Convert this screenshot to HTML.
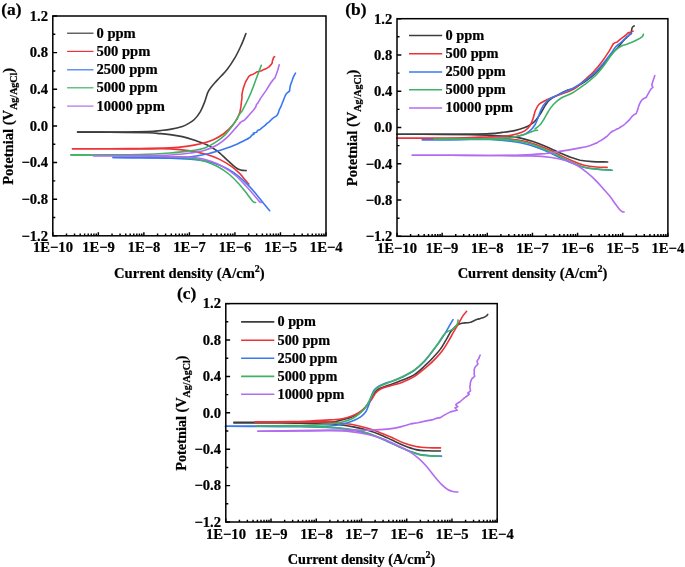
<!DOCTYPE html>
<html><head><meta charset="utf-8"><title>Polarization curves</title>
<style>
html,body{margin:0;padding:0;background:#fff;}
body{width:685px;height:567px;overflow:hidden;font-family:"Liberation Serif",serif;}
svg text{fill:#000;stroke:#000;stroke-width:0.22px;}
</style></head><body>
<svg width="685" height="567" viewBox="0 0 685 567" style="display:block;will-change:transform">
<rect width="685" height="567" fill="#fff"/>
<g id="panel-a">
<path d="M77.6,132.1 C83.0,132.1 98.3,132.2 110.0,132.1 C121.7,132.0 139.7,131.8 148.0,131.6 C156.3,131.3 156.3,131.0 160.0,130.6 C163.7,130.2 166.3,130.1 170.0,129.4 C173.7,128.7 179.3,127.4 182.3,126.4 C185.3,125.4 186.2,124.8 188.2,123.6 C190.2,122.4 192.2,121.5 194.3,119.5 C196.4,117.5 198.8,114.2 200.5,111.3 C202.2,108.4 203.4,105.2 204.6,102.1 C205.8,99.0 206.6,95.3 207.6,92.9 C208.6,90.5 209.2,89.8 210.7,87.8 C212.2,85.8 214.1,83.7 216.8,80.6 C219.5,77.5 224.0,73.3 227.1,69.4 C230.2,65.5 232.9,61.2 235.3,57.1 C237.7,53.0 239.6,48.7 241.4,44.8 C243.2,40.9 245.2,35.4 245.9,33.5" fill="none" stroke="#3d3d3d" stroke-width="1.6" stroke-linejoin="round" stroke-linecap="round"/>
<path d="M77.6,132.1 C83.0,132.1 98.3,132.1 110.0,132.2 C121.7,132.3 139.7,132.6 148.0,132.8 C156.3,133.0 156.3,133.3 160.0,133.6 C163.7,133.9 166.3,134.1 170.0,134.6 C173.7,135.1 178.2,135.6 182.3,136.6 C186.4,137.6 190.5,138.9 194.6,140.3 C198.7,141.7 203.1,143.0 206.8,144.8 C210.6,146.6 213.7,148.4 217.1,150.9 C220.5,153.4 224.2,157.4 227.3,160.1 C230.4,162.8 233.3,165.7 235.5,167.3 C237.7,169.0 238.8,169.4 240.6,170.0 C242.4,170.6 245.2,170.5 246.1,170.6" fill="none" stroke="#3d3d3d" stroke-width="1.6" stroke-linejoin="round" stroke-linecap="round"/>
<path d="M72.5,148.7 C78.8,148.7 98.8,148.7 110.0,148.7 C121.2,148.7 130.0,148.6 140.0,148.5 C150.0,148.4 162.3,148.2 170.0,147.9 C177.7,147.6 181.3,147.1 186.4,146.4 C191.5,145.7 196.2,144.9 200.7,143.8 C205.2,142.7 209.4,141.4 213.3,139.7 C217.2,138.0 220.8,135.9 224.0,133.5 C227.2,131.1 230.3,127.9 232.5,125.4 C234.7,122.9 236.5,119.7 237.3,118.5" fill="none" stroke="#ee3338" stroke-width="1.6" stroke-linejoin="round" stroke-linecap="round"/>
<path d="M237.3,118.5 L239.9,112.3 L241.0,106.2 L241.4,102.0 L242.0,98.0 L241.9,95.0 L242.4,91.9 L243.4,88.0 L244.5,84.7 L245.8,81.5 L247.5,78.6 L248.8,76.4 L250.6,75.1 L252.5,74.6 L254.7,73.4 L256.5,72.1 L258.8,71.4 L261.5,70.7 L263.9,69.4 L266.5,68.4 L269.0,66.9 L270.8,64.9 L272.1,63.2 L272.4,61.0 L273.1,59.1 L273.5,57.6 L274.6,56.7" fill="none" stroke="#ee3338" stroke-width="1.6" stroke-linejoin="round" stroke-linecap="round"/>
<path d="M72.5,148.7 C78.8,148.7 98.8,148.8 110.0,148.8 C121.2,148.8 130.0,148.9 140.0,148.9 C150.0,148.9 161.6,148.6 170.0,148.9 C178.4,149.2 184.4,150.0 190.5,150.9 C196.6,151.8 202.0,153.2 206.8,154.6 C211.6,156.0 215.0,157.1 219.1,159.1 C223.2,161.1 228.0,163.9 231.4,166.3 C234.8,168.7 237.2,171.0 239.6,173.4 C242.0,175.8 244.2,178.8 245.7,180.6 C247.2,182.4 248.3,183.5 248.8,184.1" fill="none" stroke="#ee3338" stroke-width="1.6" stroke-linejoin="round" stroke-linecap="round"/>
<path d="M113.0,157.5 C117.5,157.5 130.5,157.6 140.0,157.6 C149.5,157.6 161.6,157.7 170.0,157.5 C178.4,157.3 184.4,157.3 190.5,156.7 C196.6,156.1 201.7,155.1 206.8,154.0 C211.9,152.9 216.4,151.4 221.2,149.9 C226.0,148.4 231.1,146.7 235.5,144.8 C239.9,142.9 245.8,139.7 247.8,138.7" fill="none" stroke="#3a78f2" stroke-width="1.6" stroke-linejoin="round" stroke-linecap="round"/>
<path d="M247.8,138.7 L250.5,137.0 L252.0,135.0 L253.9,134.2 L253.2,133.2 L256.5,132.3 L257.5,130.6 L260.1,129.4 L262.5,127.4 L265.1,125.4 L267.0,123.4 L269.2,121.9 L271.0,120.0 L272.7,118.4 L274.5,117.2 L276.2,116.1 L277.2,115.0 L278.0,113.7 L278.6,112.0 L279.1,110.2 L280.0,108.4 L280.9,106.7 L282.0,103.8 L283.2,100.9 L284.1,98.5 L285.0,96.2 L285.8,94.6 L286.7,93.3 L288.2,92.1 L289.6,91.0 L289.8,88.6 L290.2,86.3 L291.0,83.6 L292.0,81.0 L292.8,78.6 L293.7,76.4 L294.6,74.6 L295.5,73.1" fill="none" stroke="#3a78f2" stroke-width="1.6" stroke-linejoin="round" stroke-linecap="round"/>
<path d="M113.0,157.5 C117.5,157.6 130.5,157.7 140.0,157.8 C149.5,157.9 161.6,157.9 170.0,158.1 C178.4,158.3 184.4,158.6 190.5,159.1 C196.6,159.6 201.7,160.1 206.8,161.2 C211.9,162.3 216.8,163.8 221.2,165.7 C225.6,167.6 229.3,169.6 233.4,172.4 C237.5,175.2 241.9,179.1 245.7,182.7 C249.5,186.3 252.9,190.3 256.0,193.9 C259.1,197.5 261.8,201.3 264.1,204.1 C266.4,206.9 268.8,209.6 269.7,210.7" fill="none" stroke="#3a78f2" stroke-width="1.6" stroke-linejoin="round" stroke-linecap="round"/>
<path d="M71.0,154.9 C77.5,154.9 98.5,155.0 110.0,154.9 C121.5,154.8 130.0,154.8 140.0,154.5 C150.0,154.2 161.6,153.6 170.0,153.0 C178.4,152.4 184.7,151.8 190.5,150.9 C196.3,150.1 200.7,149.3 204.8,147.9 C208.9,146.5 211.6,144.9 215.0,142.7 C218.4,140.5 222.2,137.7 225.3,134.6 C228.4,131.5 231.0,127.7 233.4,124.3 C235.8,120.9 238.1,116.4 239.6,114.1 C241.1,111.8 240.9,113.0 242.4,110.3 C243.9,107.6 246.7,102.1 248.6,98.0 C250.5,93.9 252.2,89.6 253.7,85.7 C255.2,81.8 256.5,77.9 257.8,74.5 C259.1,71.1 260.7,66.8 261.3,65.3" fill="none" stroke="#3fb266" stroke-width="1.6" stroke-linejoin="round" stroke-linecap="round"/>
<path d="M71.0,154.9 C77.5,154.9 98.5,155.0 110.0,155.1 C121.5,155.2 130.0,155.3 140.0,155.6 C150.0,155.9 161.6,156.3 170.0,156.7 C178.4,157.1 184.7,157.3 190.5,158.1 C196.3,158.8 200.4,159.8 204.8,161.2 C209.2,162.6 213.0,164.1 217.1,166.3 C221.2,168.5 225.7,171.4 229.4,174.5 C233.2,177.6 236.5,181.3 239.6,184.7 C242.7,188.1 245.6,192.1 247.8,194.9 C250.0,197.7 251.6,200.2 252.9,201.5 C254.2,202.8 255.2,202.3 255.6,202.5" fill="none" stroke="#3fb266" stroke-width="1.6" stroke-linejoin="round" stroke-linecap="round"/>
<path d="M93.4,155.7 C97.8,155.7 110.6,155.7 120.0,155.7 C129.4,155.7 141.7,155.6 150.0,155.5 C158.3,155.4 163.2,155.4 170.0,155.0 C176.8,154.6 184.7,153.8 190.5,153.0 C196.3,152.2 200.3,151.7 204.8,150.3 C209.3,148.9 213.7,147.1 217.5,144.8 C221.3,142.5 224.8,139.5 227.9,136.6 C231.0,133.7 234.1,129.7 236.2,127.4 C238.3,125.1 239.6,123.5 240.3,122.7" fill="none" stroke="#b26cf0" stroke-width="1.6" stroke-linejoin="round" stroke-linecap="round"/>
<path d="M240.3,122.7 L241.7,121.5 L244.4,120.3 L246.8,117.6 L249.6,114.5 L253.6,110.0 L255.6,107.3 L256.6,104.2 L257.5,103.6 L260.7,98.1 L265.8,90.9 L270.9,82.8 L273.6,79.2 L274.8,78.2 L276.4,74.0 L277.8,70.0 L279.2,64.8" fill="none" stroke="#b26cf0" stroke-width="1.6" stroke-linejoin="round" stroke-linecap="round"/>
<path d="M93.4,155.7 C97.8,155.7 110.6,155.8 120.0,155.9 C129.4,156.0 141.7,156.1 150.0,156.2 C158.3,156.3 162.6,156.5 170.0,156.7 C177.4,156.9 187.8,156.8 194.6,157.5 C201.4,158.2 206.1,159.6 210.9,161.2 C215.7,162.8 219.1,164.5 223.2,166.9 C227.3,169.3 231.8,172.4 235.5,175.5 C239.2,178.6 242.6,182.5 245.7,185.7 C248.8,188.9 251.7,192.3 253.9,194.9 C256.1,197.5 257.8,199.8 259.0,201.1 C260.2,202.4 260.8,202.3 261.1,202.5" fill="none" stroke="#b26cf0" stroke-width="1.6" stroke-linejoin="round" stroke-linecap="round"/>
<path d="M52.80,16.00h4.3 M52.80,34.32h2.5 M52.80,52.63h4.3 M52.80,70.95h2.5 M52.80,89.27h4.3 M52.80,107.58h2.5 M52.80,125.90h4.3 M52.80,144.22h2.5 M52.80,162.53h4.3 M52.80,180.85h2.5 M52.80,199.17h4.3 M52.80,217.48h2.5 M52.80,235.80h4.3 M52.80,235.80v-3.5 M66.51,235.80v-2.3 M74.52,235.80v-2.3 M80.21,235.80v-2.3 M84.63,235.80v-2.3 M88.23,235.80v-2.3 M91.28,235.80v-2.3 M93.92,235.80v-2.3 M96.25,235.80v-2.3 M98.33,235.80v-3.5 M112.04,235.80v-2.3 M120.06,235.80v-2.3 M125.75,235.80v-2.3 M130.16,235.80v-2.3 M133.77,235.80v-2.3 M136.81,235.80v-2.3 M139.45,235.80v-2.3 M141.78,235.80v-2.3 M143.87,235.80v-3.5 M157.57,235.80v-2.3 M165.59,235.80v-2.3 M171.28,235.80v-2.3 M175.69,235.80v-2.3 M179.30,235.80v-2.3 M182.35,235.80v-2.3 M184.99,235.80v-2.3 M187.32,235.80v-2.3 M189.40,235.80v-3.5 M203.11,235.80v-2.3 M211.12,235.80v-2.3 M216.81,235.80v-2.3 M221.23,235.80v-2.3 M224.83,235.80v-2.3 M227.88,235.80v-2.3 M230.52,235.80v-2.3 M232.85,235.80v-2.3 M234.93,235.80v-3.5 M248.64,235.80v-2.3 M256.66,235.80v-2.3 M262.35,235.80v-2.3 M266.76,235.80v-2.3 M270.37,235.80v-2.3 M273.41,235.80v-2.3 M276.05,235.80v-2.3 M278.38,235.80v-2.3 M280.47,235.80v-3.5 M294.17,235.80v-2.3 M302.19,235.80v-2.3 M307.88,235.80v-2.3 M312.29,235.80v-2.3 M315.90,235.80v-2.3 M318.95,235.80v-2.3 M321.59,235.80v-2.3 M323.92,235.80v-2.3 M326.00,235.80v-3.5" stroke="#000" stroke-width="1.45" fill="none"/>
<rect x="52.80" y="16.00" width="273.20" height="219.80" fill="none" stroke="#000" stroke-width="1.5"/>
<text x="48.0" y="20.8" text-anchor="end" font-family="Liberation Serif" font-weight="bold" font-size="14.6">1.2</text>
<text x="48.0" y="57.4" text-anchor="end" font-family="Liberation Serif" font-weight="bold" font-size="14.6">0.8</text>
<text x="48.0" y="94.1" text-anchor="end" font-family="Liberation Serif" font-weight="bold" font-size="14.6">0.4</text>
<text x="48.0" y="130.7" text-anchor="end" font-family="Liberation Serif" font-weight="bold" font-size="14.6">0.0</text>
<text x="48.0" y="167.3" text-anchor="end" font-family="Liberation Serif" font-weight="bold" font-size="14.6">−0.4</text>
<text x="48.0" y="204.0" text-anchor="end" font-family="Liberation Serif" font-weight="bold" font-size="14.6">−0.8</text>
<text x="48.0" y="240.6" text-anchor="end" font-family="Liberation Serif" font-weight="bold" font-size="14.6">−1.2</text>
<text x="53.0" y="252.3" text-anchor="middle" font-family="Liberation Serif" font-weight="bold" font-size="14.6">1E−10</text>
<text x="98.5" y="252.3" text-anchor="middle" font-family="Liberation Serif" font-weight="bold" font-size="14.6">1E−9</text>
<text x="144.1" y="252.3" text-anchor="middle" font-family="Liberation Serif" font-weight="bold" font-size="14.6">1E−8</text>
<text x="189.6" y="252.3" text-anchor="middle" font-family="Liberation Serif" font-weight="bold" font-size="14.6">1E−7</text>
<text x="235.1" y="252.3" text-anchor="middle" font-family="Liberation Serif" font-weight="bold" font-size="14.6">1E−6</text>
<text x="280.7" y="252.3" text-anchor="middle" font-family="Liberation Serif" font-weight="bold" font-size="14.6">1E−5</text>
<text x="326.2" y="252.3" text-anchor="middle" font-family="Liberation Serif" font-weight="bold" font-size="14.6">1E−4</text>
<text x="189.4" y="277.8" text-anchor="middle" font-family="Liberation Serif" font-weight="bold" font-size="14.6">Current density (A/cm<tspan font-size="10" dy="-6.2">2</tspan><tspan dy="6.2">)</tspan></text>
<text transform="translate(13.1,126.3) rotate(-90)" text-anchor="middle" font-family="Liberation Serif" font-weight="bold" font-size="14.6">Potetnial (V<tspan font-size="10" dy="3.6">Ag/AgCl</tspan><tspan dy="-3.6">)</tspan></text>
<path d="M67.1,33.2H93.5" stroke="#3d3d3d" stroke-width="1.2"/>
<text x="96.5" y="37.7" font-family="Liberation Serif" font-weight="bold" font-size="14.55">0 ppm</text>
<path d="M67.1,51.4H93.5" stroke="#ee3338" stroke-width="1.2"/>
<text x="96.5" y="55.9" font-family="Liberation Serif" font-weight="bold" font-size="14.55">500 ppm</text>
<path d="M67.1,69.8H93.5" stroke="#3a78f2" stroke-width="1.2"/>
<text x="96.5" y="74.3" font-family="Liberation Serif" font-weight="bold" font-size="14.55">2500 ppm</text>
<path d="M67.1,87.8H93.5" stroke="#3fb266" stroke-width="1.2"/>
<text x="96.5" y="92.3" font-family="Liberation Serif" font-weight="bold" font-size="14.55">5000 ppm</text>
<path d="M67.1,106.1H93.5" stroke="#b26cf0" stroke-width="1.2"/>
<text x="96.5" y="110.6" font-family="Liberation Serif" font-weight="bold" font-size="14.55">10000 ppm</text>
<text x="1.2" y="14.6" font-family="Liberation Serif" font-weight="bold" font-size="17.4">(a)</text>
</g>
<g id="panel-b">
<path d="M397.0,134.3 C404.2,134.3 427.8,134.3 440.0,134.3 C452.2,134.3 461.7,134.2 470.0,134.1 C478.3,134.0 484.6,133.9 490.0,133.6 C495.4,133.3 498.2,132.9 502.3,132.4 C506.4,131.9 510.9,131.4 514.6,130.6 C518.4,129.8 522.1,128.6 524.8,127.6 C527.5,126.6 529.0,125.7 530.9,124.4 C532.8,123.1 534.3,121.9 536.0,119.9 C537.7,117.9 539.7,114.9 541.2,112.5 C542.8,110.1 543.9,107.5 545.3,105.4 C546.7,103.4 547.4,101.9 549.4,100.2 C551.4,98.5 554.4,96.8 557.5,95.1 C560.6,93.4 565.3,91.0 567.8,90.0 C570.3,89.0 569.8,90.2 572.7,88.8 C575.6,87.4 581.2,84.2 585.0,81.6 C588.8,79.0 592.2,76.3 595.3,73.4 C598.4,70.5 600.8,67.3 603.4,64.2 C606.0,61.1 608.7,57.5 610.9,55.0 C613.1,52.5 614.7,50.9 616.5,48.9 C618.3,46.9 620.1,44.6 621.8,42.7 C623.4,40.8 625.6,38.5 626.4,37.6" fill="none" stroke="#3d3d3d" stroke-width="1.6" stroke-linejoin="round" stroke-linecap="round"/>
<path d="M626.4,37.6 L628.5,35.8 L629.8,34.2 L631.2,32.8 L631.5,30.8 L631.9,28.6 L632.4,27.2 L633.4,26.2 L634.2,25.9" fill="none" stroke="#3d3d3d" stroke-width="1.6" stroke-linejoin="round" stroke-linecap="round"/>
<path d="M397.0,134.3 C404.2,134.3 427.8,134.3 440.0,134.4 C452.2,134.5 461.7,134.6 470.0,134.8 C478.3,135.0 483.9,135.2 490.0,135.4 C496.1,135.6 501.3,135.7 506.4,136.1 C511.5,136.5 516.3,137.2 520.7,138.1 C525.1,139.0 528.9,140.2 533.0,141.6 C537.1,143.0 541.2,144.6 545.3,146.3 C549.4,148.0 553.4,150.0 557.5,151.8 C561.6,153.6 566.0,155.7 569.8,157.1 C573.6,158.5 576.4,159.4 580.1,160.2 C583.9,160.9 587.7,161.3 592.3,161.6 C596.9,161.9 605.1,161.9 607.7,162.0" fill="none" stroke="#3d3d3d" stroke-width="1.6" stroke-linejoin="round" stroke-linecap="round"/>
<path d="M397.0,138.3 C404.2,138.3 427.8,138.3 440.0,138.2 C452.2,138.1 461.7,137.8 470.0,137.6 C478.3,137.3 483.9,136.9 490.0,136.7 C496.1,136.4 502.0,136.5 506.4,136.1 C510.8,135.7 513.5,134.9 516.6,134.0 C519.7,133.1 522.6,132.3 524.8,130.9 C527.0,129.5 528.5,127.8 529.9,125.8 C531.3,123.8 532.1,121.2 533.0,118.7 C533.9,116.2 534.4,112.9 535.4,110.5 C536.4,108.1 537.5,106.0 539.1,104.3 C540.8,102.6 542.9,101.7 545.3,100.5 C547.7,99.3 550.0,98.3 553.4,97.0 C556.8,95.7 562.8,93.7 565.7,92.6 C568.6,91.5 569.0,91.4 570.7,90.6 C572.4,89.8 574.0,89.3 576.1,87.7 C578.2,86.1 580.4,83.9 583.4,81.2 C586.4,78.5 590.9,74.7 594.0,71.4 C597.1,68.1 599.8,64.6 602.3,61.2 C604.8,57.8 607.5,53.8 609.3,50.9 C611.1,48.0 612.6,45.0 613.3,43.8" fill="none" stroke="#ee3338" stroke-width="1.6" stroke-linejoin="round" stroke-linecap="round"/>
<path d="M613.3,43.8 L614.8,42.8 L616.7,42.3 L619.8,39.7 L623.5,36.9 L626.0,35.0 L628.0,32.9 L630.5,32.4 L633.1,31.1" fill="none" stroke="#ee3338" stroke-width="1.6" stroke-linejoin="round" stroke-linecap="round"/>
<path d="M397.0,138.3 C404.2,138.3 427.8,138.3 440.0,138.3 C452.2,138.3 461.7,138.2 470.0,138.2 C478.3,138.2 483.2,137.9 490.0,138.1 C496.8,138.2 504.7,138.6 510.5,139.1 C516.3,139.6 520.4,140.2 524.8,141.2 C529.2,142.2 533.0,143.5 537.1,144.9 C541.2,146.3 545.3,148.0 549.4,149.8 C553.5,151.6 557.5,153.9 561.6,155.9 C565.7,157.9 570.1,160.0 573.9,161.6 C577.6,163.2 580.4,164.4 584.1,165.3 C587.9,166.2 592.6,166.7 596.4,167.0 C600.2,167.3 605.3,167.3 607.1,167.4" fill="none" stroke="#ee3338" stroke-width="1.6" stroke-linejoin="round" stroke-linecap="round"/>
<path d="M422.3,139.8 C426.9,139.8 442.1,139.8 450.0,139.7 C457.9,139.6 463.3,139.5 470.0,139.3 C476.7,139.1 483.2,139.0 490.0,138.7 C496.8,138.4 505.1,138.1 510.5,137.5 C516.0,136.9 519.5,136.1 522.7,135.0 C525.9,133.9 527.9,132.6 529.9,130.9 C531.9,129.2 533.6,127.0 535.0,124.8 C536.4,122.6 537.1,120.2 538.1,117.6 C539.1,115.0 540.2,111.6 541.2,109.4 C542.2,107.2 542.8,106.0 544.2,104.3 C545.6,102.6 547.2,100.7 549.4,99.2 C551.6,97.7 554.3,96.6 557.5,95.1 C560.7,93.6 566.3,91.1 568.8,90.0 C571.3,88.9 570.0,90.0 572.7,88.4 C575.4,86.8 581.2,83.3 585.0,80.6 C588.8,77.9 592.2,75.3 595.3,72.4 C598.4,69.5 600.8,66.3 603.4,63.2 C606.0,60.1 608.5,56.7 610.6,54.0 C612.7,51.3 614.0,48.7 615.7,46.8 C617.4,44.9 619.1,44.2 620.8,42.7 C622.5,41.2 624.2,39.1 626.0,37.6 C627.8,36.1 630.6,34.2 631.5,33.5" fill="none" stroke="#3a78f2" stroke-width="1.6" stroke-linejoin="round" stroke-linecap="round"/>
<path d="M422.3,139.8 C426.9,139.8 442.1,139.8 450.0,139.7 C457.9,139.6 463.3,139.5 470.0,139.5 C476.7,139.5 483.2,139.2 490.0,139.5 C496.8,139.8 504.4,140.4 510.5,141.2 C516.6,142.0 522.0,143.0 526.8,144.2 C531.6,145.4 535.0,146.8 539.1,148.3 C543.2,149.8 547.3,151.5 551.4,153.4 C555.5,155.3 559.6,157.7 563.7,159.6 C567.8,161.5 572.2,163.3 576.0,164.7 C579.8,166.1 582.5,167.1 586.2,167.8 C590.0,168.6 594.4,168.9 598.5,169.2 C602.6,169.5 608.8,169.7 610.8,169.8" fill="none" stroke="#3a78f2" stroke-width="1.6" stroke-linejoin="round" stroke-linecap="round"/>
<path d="M434.0,139.2 C438.3,139.2 450.7,139.2 460.0,139.2 C469.3,139.2 481.6,139.4 490.0,139.1 C498.4,138.8 505.1,138.2 510.5,137.5 C516.0,136.8 519.3,135.9 522.7,135.0 C526.1,134.1 528.8,132.7 530.9,132.0 C533.0,131.3 534.1,130.9 535.2,130.6 C536.3,130.3 537.1,130.3 537.5,130.2" fill="none" stroke="#3fb266" stroke-width="1.6" stroke-linejoin="round" stroke-linecap="round"/>
<path d="M535.0,128.9 C535.9,128.2 538.6,126.5 540.1,124.8 C541.6,123.1 542.8,120.9 544.2,118.7 C545.6,116.5 546.8,113.9 548.3,111.5 C549.8,109.1 551.2,106.8 553.4,104.5 C555.6,102.2 558.4,99.8 561.6,97.8 C564.8,95.8 568.8,95.0 572.7,92.7 C576.6,90.5 581.2,87.1 585.0,84.3 C588.8,81.5 592.2,78.8 595.3,75.8 C598.4,72.8 600.8,69.6 603.4,66.3 C606.0,63.0 608.5,58.8 610.6,56.1 C612.7,53.4 613.8,51.6 615.7,49.9 C617.6,48.2 619.9,46.8 621.9,45.8 C623.9,44.8 625.6,44.7 628.0,43.8 C630.4,42.9 633.8,41.5 636.2,40.3 C638.6,39.1 641.1,37.6 642.3,36.6 C643.5,35.6 643.2,34.6 643.4,34.2" fill="none" stroke="#3fb266" stroke-width="1.6" stroke-linejoin="round" stroke-linecap="round"/>
<path d="M434.0,139.2 C438.3,139.2 450.7,139.1 460.0,139.1 C469.3,139.1 481.6,138.9 490.0,139.1 C498.4,139.3 504.4,139.5 510.5,140.1 C516.6,140.7 522.0,141.7 526.8,142.8 C531.6,143.9 535.0,145.3 539.1,146.9 C543.2,148.5 547.3,150.5 551.4,152.4 C555.5,154.3 559.6,156.7 563.7,158.6 C567.8,160.5 572.2,162.6 576.0,164.1 C579.8,165.6 582.5,166.9 586.2,167.8 C590.0,168.7 594.1,169.0 598.5,169.4 C602.9,169.8 610.1,170.1 612.4,170.2" fill="none" stroke="#3fb266" stroke-width="1.6" stroke-linejoin="round" stroke-linecap="round"/>
<path d="M412.3,155.2 C418.6,155.2 437.1,155.2 450.0,155.3 C462.9,155.4 478.2,155.5 490.0,155.5 C501.8,155.5 512.2,155.4 520.7,155.1 C529.2,154.8 534.7,154.5 541.2,153.9 C547.7,153.3 553.8,152.3 559.6,151.4 C565.4,150.5 571.2,149.5 576.0,148.6 C580.8,147.7 584.8,147.1 588.2,146.2 C591.6,145.3 595.0,143.6 596.4,143.1" fill="none" stroke="#b26cf0" stroke-width="1.6" stroke-linejoin="round" stroke-linecap="round"/>
<path d="M596.4,143.1 L600.0,140.9 L601.5,140.2 L604.6,138.0 L607.5,135.8 L610.0,133.2 L612.8,131.0 L614.5,130.4 L616.9,129.0 L618.6,128.4 L620.6,127.0 L623.0,125.6 L625.0,124.0 L627.0,122.2 L629.1,120.2 L631.0,117.8 L632.6,115.8 L634.4,114.4 L636.1,113.8 L637.0,111.5 L637.9,109.1 L638.6,106.4 L639.6,103.9 L641.0,101.2 L642.6,99.2 L644.4,98.2 L646.1,97.5 L647.3,95.4 L648.4,93.4 L649.5,91.3 L650.7,89.3 L651.9,88.1 L652.9,87.3 L652.5,86.2 L651.8,85.2 L652.4,82.8 L653.1,80.5 L654.0,78.0 L654.8,75.6" fill="none" stroke="#b26cf0" stroke-width="1.6" stroke-linejoin="round" stroke-linecap="round"/>
<path d="M412.3,155.2 C418.6,155.2 437.1,155.2 450.0,155.3 C462.9,155.4 476.5,155.4 490.0,155.5 C503.5,155.6 520.7,155.6 530.9,155.9 C541.1,156.2 545.6,156.7 551.4,157.5 C557.2,158.3 561.6,159.4 565.7,160.6 C569.8,161.8 572.6,162.8 576.0,164.7 C579.4,166.6 582.8,169.2 586.2,171.9 C589.6,174.6 593.3,178.0 596.4,181.1 C599.5,184.2 602.4,187.8 604.6,190.3 C606.8,192.8 607.8,193.6 609.7,196.0 C611.6,198.4 614.3,202.5 616.0,204.8 C617.7,207.1 618.8,208.6 619.8,209.8 C620.8,211.0 621.6,211.5 622.3,211.8 C623.0,212.2 623.7,211.9 624.0,211.9" fill="none" stroke="#b26cf0" stroke-width="1.6" stroke-linejoin="round" stroke-linecap="round"/>
<path d="M397.00,18.70h4.3 M397.00,36.83h2.5 M397.00,54.97h4.3 M397.00,73.10h2.5 M397.00,91.23h4.3 M397.00,109.37h2.5 M397.00,127.50h4.3 M397.00,145.63h2.5 M397.00,163.77h4.3 M397.00,181.90h2.5 M397.00,200.03h4.3 M397.00,218.17h2.5 M397.00,236.30h4.3 M397.00,236.30v-3.5 M410.59,236.30v-2.3 M418.54,236.30v-2.3 M424.18,236.30v-2.3 M428.56,236.30v-2.3 M432.13,236.30v-2.3 M435.16,236.30v-2.3 M437.77,236.30v-2.3 M440.08,236.30v-2.3 M442.15,236.30v-3.5 M455.74,236.30v-2.3 M463.69,236.30v-2.3 M469.33,236.30v-2.3 M473.71,236.30v-2.3 M477.28,236.30v-2.3 M480.31,236.30v-2.3 M482.92,236.30v-2.3 M485.23,236.30v-2.3 M487.30,236.30v-3.5 M500.89,236.30v-2.3 M508.84,236.30v-2.3 M514.48,236.30v-2.3 M518.86,236.30v-2.3 M522.43,236.30v-2.3 M525.46,236.30v-2.3 M528.07,236.30v-2.3 M530.38,236.30v-2.3 M532.45,236.30v-3.5 M546.04,236.30v-2.3 M553.99,236.30v-2.3 M559.63,236.30v-2.3 M564.01,236.30v-2.3 M567.58,236.30v-2.3 M570.61,236.30v-2.3 M573.22,236.30v-2.3 M575.53,236.30v-2.3 M577.60,236.30v-3.5 M591.19,236.30v-2.3 M599.14,236.30v-2.3 M604.78,236.30v-2.3 M609.16,236.30v-2.3 M612.73,236.30v-2.3 M615.76,236.30v-2.3 M618.37,236.30v-2.3 M620.68,236.30v-2.3 M622.75,236.30v-3.5 M636.34,236.30v-2.3 M644.29,236.30v-2.3 M649.93,236.30v-2.3 M654.31,236.30v-2.3 M657.88,236.30v-2.3 M660.91,236.30v-2.3 M663.52,236.30v-2.3 M665.83,236.30v-2.3 M667.90,236.30v-3.5" stroke="#000" stroke-width="1.45" fill="none"/>
<rect x="397.00" y="18.70" width="270.90" height="217.60" fill="none" stroke="#000" stroke-width="1.5"/>
<text x="392.2" y="23.5" text-anchor="end" font-family="Liberation Serif" font-weight="bold" font-size="14.6">1.2</text>
<text x="392.2" y="59.8" text-anchor="end" font-family="Liberation Serif" font-weight="bold" font-size="14.6">0.8</text>
<text x="392.2" y="96.0" text-anchor="end" font-family="Liberation Serif" font-weight="bold" font-size="14.6">0.4</text>
<text x="392.2" y="132.3" text-anchor="end" font-family="Liberation Serif" font-weight="bold" font-size="14.6">0.0</text>
<text x="392.2" y="168.6" text-anchor="end" font-family="Liberation Serif" font-weight="bold" font-size="14.6">−0.4</text>
<text x="392.2" y="204.8" text-anchor="end" font-family="Liberation Serif" font-weight="bold" font-size="14.6">−0.8</text>
<text x="392.2" y="241.1" text-anchor="end" font-family="Liberation Serif" font-weight="bold" font-size="14.6">−1.2</text>
<text x="397.0" y="252.8" text-anchor="middle" font-family="Liberation Serif" font-weight="bold" font-size="14.6">1E−10</text>
<text x="442.1" y="252.8" text-anchor="middle" font-family="Liberation Serif" font-weight="bold" font-size="14.6">1E−9</text>
<text x="487.3" y="252.8" text-anchor="middle" font-family="Liberation Serif" font-weight="bold" font-size="14.6">1E−8</text>
<text x="532.5" y="252.8" text-anchor="middle" font-family="Liberation Serif" font-weight="bold" font-size="14.6">1E−7</text>
<text x="577.6" y="252.8" text-anchor="middle" font-family="Liberation Serif" font-weight="bold" font-size="14.6">1E−6</text>
<text x="622.8" y="252.8" text-anchor="middle" font-family="Liberation Serif" font-weight="bold" font-size="14.6">1E−5</text>
<text x="667.9" y="252.8" text-anchor="middle" font-family="Liberation Serif" font-weight="bold" font-size="14.6">1E−4</text>
<text x="532.5" y="278.3" text-anchor="middle" font-family="Liberation Serif" font-weight="bold" font-size="14.5">Current density (A/cm<tspan font-size="10" dy="-6.2">2</tspan><tspan dy="6.2">)</tspan></text>
<text transform="translate(357.3,127.9) rotate(-90)" text-anchor="middle" font-family="Liberation Serif" font-weight="bold" font-size="14.5">Potetnial (V<tspan font-size="10" dy="3.6">Ag/AgCl</tspan><tspan dy="-3.6">)</tspan></text>
<path d="M409.0,35.6H442.2" stroke="#3d3d3d" stroke-width="1.5"/>
<text x="445.5" y="40.1" font-family="Liberation Serif" font-weight="bold" font-size="14.36">0 ppm</text>
<path d="M409.0,53.8H442.2" stroke="#ee3338" stroke-width="1.5"/>
<text x="445.5" y="58.3" font-family="Liberation Serif" font-weight="bold" font-size="14.36">500 ppm</text>
<path d="M409.0,71.9H442.2" stroke="#3a78f2" stroke-width="1.5"/>
<text x="445.5" y="76.4" font-family="Liberation Serif" font-weight="bold" font-size="14.36">2500 ppm</text>
<path d="M409.0,89.7H442.2" stroke="#3fb266" stroke-width="1.5"/>
<text x="445.5" y="94.2" font-family="Liberation Serif" font-weight="bold" font-size="14.36">5000 ppm</text>
<path d="M409.0,107.9H442.2" stroke="#b26cf0" stroke-width="1.5"/>
<text x="445.5" y="112.4" font-family="Liberation Serif" font-weight="bold" font-size="14.36">10000 ppm</text>
<text x="345.2" y="14.6" font-family="Liberation Serif" font-weight="bold" font-size="17.4">(b)</text>
</g>
<g id="panel-c">
<path d="M233.9,422.3 C239.9,422.3 259.0,422.3 270.0,422.3 C281.0,422.3 290.0,422.2 300.0,422.2 C310.0,422.1 323.3,422.3 330.0,422.0 C336.7,421.7 336.8,421.1 340.2,420.4 C343.6,419.6 347.4,418.7 350.5,417.5 C353.6,416.3 356.3,414.9 358.7,413.3 C361.1,411.7 362.9,410.0 364.8,407.9 C366.7,405.8 368.4,403.1 369.9,400.7 C371.4,398.3 372.5,395.6 374.0,393.6 C375.5,391.6 376.5,390.0 379.1,388.6 C381.7,387.2 385.6,386.4 389.4,385.0 C393.2,383.6 397.7,382.0 401.8,380.3 C405.9,378.6 410.2,377.4 414.1,374.9 C418.0,372.4 422.0,368.3 425.2,365.4 C428.4,362.4 430.9,359.9 433.4,357.2 C435.9,354.5 438.3,352.0 440.4,349.1 C442.5,346.2 444.4,342.6 446.2,339.7 C447.9,336.8 449.3,333.7 450.9,331.5 C452.5,329.3 454.2,327.5 455.6,326.3 C457.0,325.1 458.5,324.5 459.1,324.1" fill="none" stroke="#3d3d3d" stroke-width="1.6" stroke-linejoin="round" stroke-linecap="round"/>
<path d="M459.1,324.1 L462.0,323.3 L464.9,322.9 L468.0,322.7 L470.7,322.3 L473.0,321.2 L475.4,320.0 L478.0,319.1 L480.1,318.6 L483.6,317.6 L486.5,315.9 L487.7,314.4" fill="none" stroke="#3d3d3d" stroke-width="1.6" stroke-linejoin="round" stroke-linecap="round"/>
<path d="M233.9,422.9 C239.9,422.9 259.0,422.9 270.0,423.0 C281.0,423.1 290.0,423.1 300.0,423.3 C310.0,423.5 322.9,423.7 330.0,424.0 C337.1,424.3 338.2,424.5 342.3,425.0 C346.4,425.5 350.5,426.2 354.6,427.1 C358.7,428.0 362.7,428.9 366.8,430.1 C370.9,431.3 375.0,432.6 379.1,434.2 C383.2,435.8 387.3,437.9 391.4,439.8 C395.5,441.7 399.6,443.9 403.7,445.5 C407.8,447.1 411.9,448.7 416.0,449.6 C420.1,450.5 424.1,450.6 428.2,450.8 C432.3,451.0 438.4,451.0 440.5,451.0" fill="none" stroke="#3d3d3d" stroke-width="1.6" stroke-linejoin="round" stroke-linecap="round"/>
<path d="M255.2,421.9 C261.0,421.8 280.9,421.8 290.0,421.6 C299.1,421.5 303.3,421.3 310.0,421.0 C316.7,420.7 324.6,420.3 330.0,419.9 C335.4,419.5 338.6,419.4 342.3,418.7 C346.1,418.0 349.4,417.0 352.5,415.8 C355.6,414.6 358.3,413.1 360.7,411.5 C363.1,409.9 364.9,408.1 366.8,406.0 C368.7,403.9 370.5,400.9 372.0,398.7 C373.5,396.5 374.5,394.3 376.0,392.7 C377.5,391.1 378.6,390.0 381.2,388.8 C383.8,387.6 388.0,386.6 391.4,385.5 C394.8,384.4 398.0,383.9 401.8,382.4 C405.6,380.9 409.7,379.5 414.1,376.7 C418.5,373.9 424.5,368.7 428.1,365.6 C431.7,362.6 433.3,361.0 435.7,358.4 C438.1,355.8 440.5,353.1 442.7,350.2 C444.9,347.3 446.9,343.8 448.6,340.9 C450.4,338.0 451.6,335.4 453.2,332.7 C454.8,330.0 456.3,327.2 457.9,324.5 C459.5,321.8 461.1,318.6 462.6,316.4 C464.1,314.2 466.0,312.1 466.7,311.3" fill="none" stroke="#ee3338" stroke-width="1.6" stroke-linejoin="round" stroke-linecap="round"/>
<path d="M255.2,422.2 C261.0,422.2 280.9,422.3 290.0,422.3 C299.1,422.3 303.3,422.2 310.0,422.2 C316.7,422.1 324.6,421.8 330.0,422.0 C335.4,422.2 338.2,422.9 342.3,423.4 C346.4,423.9 350.5,424.2 354.6,425.0 C358.7,425.8 362.7,426.9 366.8,428.1 C370.9,429.3 375.0,430.7 379.1,432.2 C383.2,433.7 387.3,435.5 391.4,437.3 C395.5,439.1 399.6,441.5 403.7,443.0 C407.8,444.5 411.9,445.7 416.0,446.5 C420.1,447.3 424.1,447.5 428.2,447.7 C432.3,447.9 438.4,447.9 440.5,447.9" fill="none" stroke="#ee3338" stroke-width="1.6" stroke-linejoin="round" stroke-linecap="round"/>
<path d="M225.5,426.3 C231.2,426.3 247.6,426.3 260.0,426.3 C272.4,426.3 288.3,426.4 300.0,426.3 C311.7,426.2 322.9,426.4 330.0,426.0 C337.1,425.6 338.6,424.9 342.3,424.0 C346.1,423.1 349.4,422.1 352.5,420.9 C355.6,419.7 358.5,418.3 360.7,416.8 C362.9,415.3 364.4,413.7 365.8,411.7 C367.2,409.7 368.0,407.0 368.9,404.6 C369.8,402.2 370.0,399.8 370.9,397.4 C371.8,395.0 372.6,392.1 374.0,390.2 C375.4,388.3 376.9,387.3 379.1,386.0 C381.3,384.7 384.9,383.5 387.3,382.6 C389.7,381.7 391.0,381.7 393.4,380.8 C395.8,379.9 398.4,379.1 401.8,377.4 C405.2,375.7 410.3,373.3 414.1,370.6 C417.9,367.9 421.3,364.6 424.4,361.4 C427.5,358.2 430.1,354.4 432.5,351.3 C434.9,348.2 436.6,346.0 438.7,343.1 C440.8,340.2 443.1,336.6 444.8,333.9 C446.5,331.2 447.5,329.1 448.9,326.7 C450.3,324.3 452.3,320.8 453.0,319.6" fill="none" stroke="#3a78f2" stroke-width="1.6" stroke-linejoin="round" stroke-linecap="round"/>
<path d="M225.5,426.3 C231.2,426.3 247.6,426.3 260.0,426.4 C272.4,426.5 288.3,426.5 300.0,426.7 C311.7,426.9 322.3,427.1 330.0,427.5 C337.7,427.9 341.3,428.4 346.4,429.1 C351.5,429.8 356.3,430.6 360.7,431.6 C365.1,432.6 368.9,433.8 373.0,435.3 C377.1,436.8 381.2,438.6 385.3,440.4 C389.4,442.2 393.4,444.1 397.5,445.9 C401.6,447.7 406.0,449.8 409.8,451.2 C413.6,452.6 416.7,453.8 420.1,454.5 C423.5,455.2 426.7,455.4 430.3,455.7 C433.9,456.0 439.6,456.0 441.5,456.1" fill="none" stroke="#3a78f2" stroke-width="1.6" stroke-linejoin="round" stroke-linecap="round"/>
<path d="M256.4,425.7 C262.0,425.7 281.1,425.7 290.0,425.6 C298.9,425.5 303.3,425.5 310.0,425.2 C316.7,424.9 324.6,424.5 330.0,424.0 C335.4,423.5 338.6,422.9 342.3,422.0 C346.1,421.1 349.4,420.1 352.5,418.5 C355.6,416.9 358.3,414.8 360.7,412.7 C363.1,410.6 365.1,408.2 366.8,405.6 C368.5,403.1 369.5,400.0 370.9,397.4 C372.3,394.8 373.5,392.1 375.0,390.2 C376.5,388.3 377.7,387.3 380.1,386.0 C382.5,384.7 385.8,383.8 389.4,382.3 C393.0,380.8 397.7,379.0 401.8,377.0 C405.9,375.0 410.3,372.9 414.1,370.2 C417.9,367.5 421.3,364.2 424.4,361.0 C427.5,357.8 430.1,354.0 432.5,350.9 C434.9,347.8 436.8,345.2 438.7,342.5 C440.6,339.8 442.3,336.5 443.8,334.7 C445.3,332.9 446.1,332.3 447.5,331.5 C448.9,330.7 450.7,330.7 452.1,329.7 C453.5,328.7 455.2,326.8 456.1,325.7 C457.1,324.6 457.5,323.8 457.8,322.8 C458.1,321.9 458.0,320.5 458.0,320.0" fill="none" stroke="#3fb266" stroke-width="1.6" stroke-linejoin="round" stroke-linecap="round"/>
<path d="M256.4,425.7 C262.0,425.7 281.1,425.8 290.0,425.9 C298.9,426.0 303.3,426.1 310.0,426.4 C316.7,426.7 323.9,427.1 330.0,427.5 C336.1,427.9 341.3,428.1 346.4,428.7 C351.5,429.3 356.3,430.2 360.7,431.2 C365.1,432.2 368.9,433.4 373.0,434.9 C377.1,436.4 381.2,438.2 385.3,440.0 C389.4,441.8 393.4,444.0 397.5,445.9 C401.6,447.8 406.0,450.1 409.8,451.6 C413.6,453.1 416.7,454.2 420.1,454.9 C423.5,455.6 427.1,455.7 430.3,455.9 C433.5,456.1 438.0,456.2 439.5,456.3" fill="none" stroke="#3fb266" stroke-width="1.6" stroke-linejoin="round" stroke-linecap="round"/>
<path d="M257.9,431.2 C264.9,431.1 288.0,430.8 300.0,430.6 C312.0,430.4 321.6,430.2 330.0,430.1 C338.4,430.0 343.7,430.1 350.5,430.1 C357.3,430.1 364.8,430.3 370.9,430.1 C377.0,429.9 382.5,429.6 387.3,429.1 C392.1,428.6 395.5,428.0 399.6,427.1 C403.7,426.2 409.8,424.2 411.9,423.6" fill="none" stroke="#b26cf0" stroke-width="1.6" stroke-linejoin="round" stroke-linecap="round"/>
<path d="M411.9,423.6 L418.0,422.7 L426.2,420.9 L432.0,419.9 L436.0,418.4 L440.5,417.6 L443.4,415.6 L447.0,413.6 L450.4,411.9 L454.0,411.0 L457.2,410.2 L456.0,409.0 L455.0,407.8 L456.6,407.2 L457.8,406.6 L456.6,405.6 L455.8,404.7 L457.6,403.2 L459.7,402.0 L462.0,400.0 L464.4,397.9 L467.0,396.0 L469.4,394.2 L468.4,393.6 L467.8,393.0 L469.2,392.0 L470.5,390.9 L470.1,388.6 L469.8,386.2 L470.4,385.0 L470.2,383.9 L470.8,381.2 L472.0,378.6 L473.4,377.3 L474.7,376.3 L474.1,374.0 L474.3,371.6 L474.2,369.5 L474.9,367.5 L476.5,365.6 L478.0,364.0 L477.3,362.6 L477.0,361.1 L478.0,359.6 L479.0,358.2 L479.4,356.6 L480.2,355.2" fill="none" stroke="#b26cf0" stroke-width="1.6" stroke-linejoin="round" stroke-linecap="round"/>
<path d="M257.9,431.2 C264.9,431.2 288.0,431.1 300.0,431.0 C312.0,430.9 321.6,430.7 330.0,430.8 C338.4,430.9 344.4,431.0 350.5,431.6 C356.6,432.2 361.7,433.1 366.8,434.2 C371.9,435.3 376.4,436.6 381.2,438.3 C386.0,440.0 391.1,442.4 395.5,444.5 C399.9,446.6 404.1,448.4 407.8,450.6 C411.6,452.8 414.9,455.2 418.0,457.8 C421.1,460.4 423.5,462.9 426.2,466.0 C428.9,469.1 431.8,473.1 434.4,476.2 C436.9,479.3 439.3,482.2 441.5,484.4 C443.7,486.6 445.8,488.3 447.7,489.5 C449.6,490.7 451.1,491.1 452.8,491.5 C454.5,491.9 457.0,491.9 457.9,492.0" fill="none" stroke="#b26cf0" stroke-width="1.6" stroke-linejoin="round" stroke-linecap="round"/>
<path d="M225.80,303.60h4.3 M225.80,321.80h2.5 M225.80,340.00h4.3 M225.80,358.20h2.5 M225.80,376.40h4.3 M225.80,394.60h2.5 M225.80,412.80h4.3 M225.80,431.00h2.5 M225.80,449.20h4.3 M225.80,467.40h2.5 M225.80,485.60h4.3 M225.80,503.80h2.5 M225.80,522.00h4.3 M225.80,522.00v-3.5 M239.42,522.00v-2.3 M247.38,522.00v-2.3 M253.03,522.00v-2.3 M257.42,522.00v-2.3 M261.00,522.00v-2.3 M264.03,522.00v-2.3 M266.65,522.00v-2.3 M268.96,522.00v-2.3 M271.03,522.00v-3.5 M284.65,522.00v-2.3 M292.62,522.00v-2.3 M298.27,522.00v-2.3 M302.65,522.00v-2.3 M306.23,522.00v-2.3 M309.26,522.00v-2.3 M311.88,522.00v-2.3 M314.20,522.00v-2.3 M316.27,522.00v-3.5 M329.88,522.00v-2.3 M337.85,522.00v-2.3 M343.50,522.00v-2.3 M347.88,522.00v-2.3 M351.47,522.00v-2.3 M354.49,522.00v-2.3 M357.12,522.00v-2.3 M359.43,522.00v-2.3 M361.50,522.00v-3.5 M375.12,522.00v-2.3 M383.08,522.00v-2.3 M388.73,522.00v-2.3 M393.12,522.00v-2.3 M396.70,522.00v-2.3 M399.73,522.00v-2.3 M402.35,522.00v-2.3 M404.66,522.00v-2.3 M406.73,522.00v-3.5 M420.35,522.00v-2.3 M428.32,522.00v-2.3 M433.97,522.00v-2.3 M438.35,522.00v-2.3 M441.93,522.00v-2.3 M444.96,522.00v-2.3 M447.58,522.00v-2.3 M449.90,522.00v-2.3 M451.97,522.00v-3.5 M465.58,522.00v-2.3 M473.55,522.00v-2.3 M479.20,522.00v-2.3 M483.58,522.00v-2.3 M487.17,522.00v-2.3 M490.19,522.00v-2.3 M492.82,522.00v-2.3 M495.13,522.00v-2.3 M497.20,522.00v-3.5" stroke="#000" stroke-width="1.45" fill="none"/>
<rect x="225.80" y="303.60" width="271.40" height="218.40" fill="none" stroke="#000" stroke-width="1.5"/>
<text x="221.0" y="308.4" text-anchor="end" font-family="Liberation Serif" font-weight="bold" font-size="14.6">1.2</text>
<text x="221.0" y="344.8" text-anchor="end" font-family="Liberation Serif" font-weight="bold" font-size="14.6">0.8</text>
<text x="221.0" y="381.2" text-anchor="end" font-family="Liberation Serif" font-weight="bold" font-size="14.6">0.4</text>
<text x="221.0" y="417.6" text-anchor="end" font-family="Liberation Serif" font-weight="bold" font-size="14.6">0.0</text>
<text x="221.0" y="454.0" text-anchor="end" font-family="Liberation Serif" font-weight="bold" font-size="14.6">−0.4</text>
<text x="221.0" y="490.4" text-anchor="end" font-family="Liberation Serif" font-weight="bold" font-size="14.6">−0.8</text>
<text x="221.0" y="526.8" text-anchor="end" font-family="Liberation Serif" font-weight="bold" font-size="14.6">−1.2</text>
<text x="226.0" y="538.5" text-anchor="middle" font-family="Liberation Serif" font-weight="bold" font-size="14.6">1E−10</text>
<text x="271.2" y="538.5" text-anchor="middle" font-family="Liberation Serif" font-weight="bold" font-size="14.6">1E−9</text>
<text x="316.5" y="538.5" text-anchor="middle" font-family="Liberation Serif" font-weight="bold" font-size="14.6">1E−8</text>
<text x="361.7" y="538.5" text-anchor="middle" font-family="Liberation Serif" font-weight="bold" font-size="14.6">1E−7</text>
<text x="406.9" y="538.5" text-anchor="middle" font-family="Liberation Serif" font-weight="bold" font-size="14.6">1E−6</text>
<text x="452.2" y="538.5" text-anchor="middle" font-family="Liberation Serif" font-weight="bold" font-size="14.6">1E−5</text>
<text x="497.4" y="538.5" text-anchor="middle" font-family="Liberation Serif" font-weight="bold" font-size="14.6">1E−4</text>
<text x="361.5" y="564.0" text-anchor="middle" font-family="Liberation Serif" font-weight="bold" font-size="14.3">Current density (A/cm<tspan font-size="10" dy="-6.2">2</tspan><tspan dy="6.2">)</tspan></text>
<text transform="translate(186.1,413.1) rotate(-90)" text-anchor="middle" font-family="Liberation Serif" font-weight="bold" font-size="14.3">Potetnial (V<tspan font-size="10" dy="3.6">Ag/AgCl</tspan><tspan dy="-3.6">)</tspan></text>
<path d="M241.1,321.9H274.3" stroke="#3d3d3d" stroke-width="1.6"/>
<text x="277.5" y="326.4" font-family="Liberation Serif" font-weight="bold" font-size="14.25">0 ppm</text>
<path d="M241.1,340.2H274.3" stroke="#ee3338" stroke-width="1.6"/>
<text x="277.5" y="344.7" font-family="Liberation Serif" font-weight="bold" font-size="14.25">500 ppm</text>
<path d="M241.1,358.2H274.3" stroke="#3a78f2" stroke-width="1.6"/>
<text x="277.5" y="362.7" font-family="Liberation Serif" font-weight="bold" font-size="14.25">2500 ppm</text>
<path d="M241.1,376.4H274.3" stroke="#3fb266" stroke-width="1.6"/>
<text x="277.5" y="380.9" font-family="Liberation Serif" font-weight="bold" font-size="14.25">5000 ppm</text>
<path d="M241.1,394.3H274.3" stroke="#b26cf0" stroke-width="1.6"/>
<text x="277.5" y="398.8" font-family="Liberation Serif" font-weight="bold" font-size="14.25">10000 ppm</text>
<text x="177" y="299" font-family="Liberation Serif" font-weight="bold" font-size="17.4">(c)</text>
</g>
</svg>
</body></html>
